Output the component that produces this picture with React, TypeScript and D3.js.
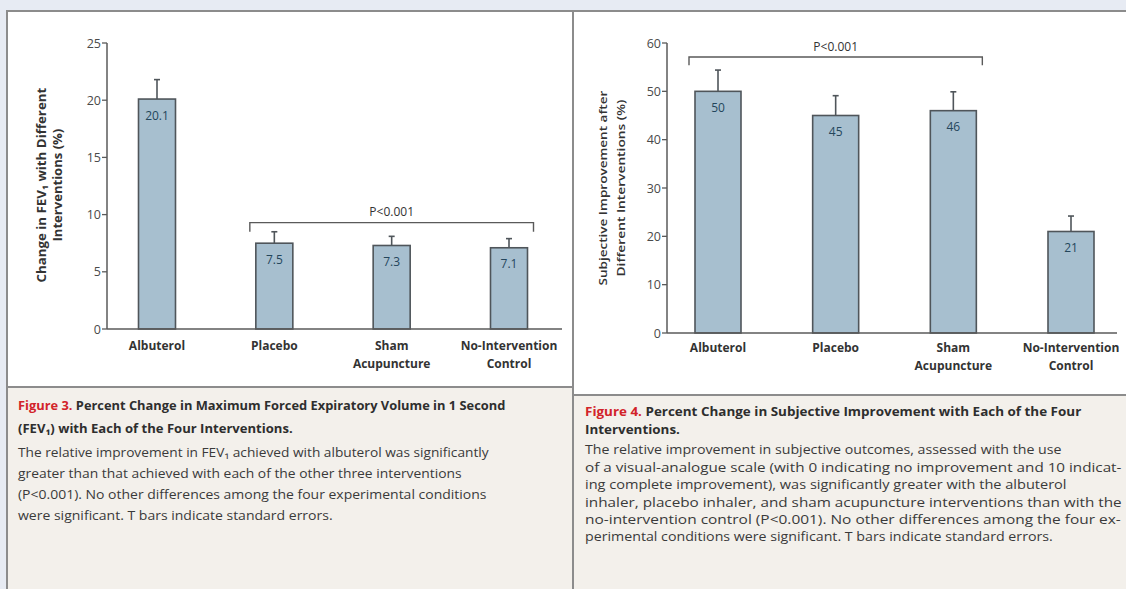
import React, { useEffect, useRef } from "react";
import * as d3 from "d3";

const categories = ["Albuterol", "Placebo", "Sham Acupuncture", "No-Intervention Control"];
const categoryLines = [["Albuterol"], ["Placebo"], ["Sham", "Acupuncture"], ["No-Intervention", "Control"]];

const fevValues = [20.1, 7.5, 7.3, 7.1];
const fevSE = [1.7, 1.0, 0.8, 0.8];
const fevTicks = [0, 5, 10, 15, 20, 25];

const subjValues = [50, 45, 46, 21];
const subjSE = [4.4, 4.1, 3.9, 3.2];
const subjTicks = [0, 10, 20, 30, 40, 50, 60];

const W = 1126;
const H = 589;
const FONT = "'Open Sans', 'Noto Sans', 'DejaVu Sans', sans-serif";
const BAR_FILL = "#a7bfcf";
const BAR_STROKE = "#4f555a";
const AXIS = "#5a5a5a";
const TEXT = "#333";
const RED = "#d2232a";
const PANEL_LINE = "#8c8c8c";
const CAPTION_BG = "#f3f0eb";
const PAGE_BG = "#e7ebf3";

type CapLine = { red?: string; text: string; bold: boolean; x1: number; y: number; len: number };

const leftCaption: CapLine[] = [
  { red: "Figure 3. ", text: "Percent Change in Maximum Forced Expiratory Volume in 1 Second", bold: true, x1: 18, y: 410, len: 488 },
  { text: "(FEV\u2081) with Each of the Four Interventions.", bold: true, x1: 18, y: 433, len: 275 },
  { text: "The relative improvement in FEV\u2081 achieved with albuterol was significantly", bold: false, x1: 18, y: 457, len: 471 },
  { text: "greater than that achieved with each of the other three interventions", bold: false, x1: 18, y: 478, len: 444 },
  { text: "(P<0.001). No other differences among the four experimental conditions", bold: false, x1: 18, y: 499, len: 469 },
  { text: "were significant. T bars indicate standard errors.", bold: false, x1: 18, y: 520, len: 315 },
];

const rightCaption: CapLine[] = [
  { red: "Figure 4. ", text: "Percent Change in Subjective Improvement with Each of the Four", bold: true, x1: 585, y: 416, len: 497 },
  { text: "Interventions.", bold: true, x1: 585, y: 434, len: 95 },
  { text: "The relative improvement in subjective outcomes, assessed with the use", bold: false, x1: 585, y: 454, len: 477 },
  { text: "of a visual-analogue scale (with 0 indicating no improvement and 10 indicat-", bold: false, x1: 585, y: 472, len: 537 },
  { text: "ing complete improvement), was significantly greater with the albuterol", bold: false, x1: 585, y: 489, len: 482 },
  { text: "inhaler, placebo inhaler, and sham acupuncture interventions than with the", bold: false, x1: 585, y: 507, len: 537 },
  { text: "no-intervention control (P<0.001). No other differences among the four ex-", bold: false, x1: 585, y: 524, len: 536 },
  { text: "perimental conditions were significant. T bars indicate standard errors.", bold: false, x1: 585, y: 541, len: 468 },
];

type ChartSpec = {
  values: number[];
  se: number[];
  ticks: number[];
  yDomain: [number, number];
  yRange: [number, number];
  xRange: [number, number];
  axisX0: number;
  axisX1: number;
  barW: number;
  fmt: (v: number) => string;
  bracket: { from: number; to: number; level: number; drop: number; label: string };
  titleLines: string[];
  titleX: number[];
  titleY: number;
  titleLen: number[];
  titleWeight: number;
  catY: number;
};

function Chart({ s }: { s: ChartSpec }) {
  const y = d3.scaleLinear().domain(s.yDomain).range(s.yRange);
  const x = d3.scalePoint<string>().domain(categories).range(s.xRange);
  const bw = s.barW;
  const bx0 = (x(categories[s.bracket.from]) as number) - bw / 2 - 6;
  const bx1 = (x(categories[s.bracket.to]) as number) + bw / 2 + 6;
  const by = y(s.bracket.level);
  const byd = y(s.bracket.level - s.bracket.drop);
  return (
    <g fontFamily={FONT}>
      {s.titleLines.map((t, i) => (
        <g key={i} transform={`translate(${s.titleX[i]},${s.titleY}) rotate(-90)`}>
          <text
            className="fit"
            data-len={s.titleLen[i]}
            data-anchor="middle"
            dominantBaseline="central"
            fontSize={11.5}
            fontWeight={s.titleWeight}
            fill={TEXT}
          >
            {t}
          </text>
        </g>
      ))}
      <line x1={s.axisX0} x2={s.axisX0} y1={y(s.yDomain[0])} y2={y(s.yDomain[1])} stroke={AXIS} strokeWidth={1.5} />
      {s.ticks.map((t) => (
        <g key={t}>
          <line x1={s.axisX0 - 5} x2={s.axisX0} y1={y(t)} y2={y(t)} stroke={AXIS} strokeWidth={1.3} />
          <text x={s.axisX0 - 6} y={y(t)} textAnchor="end" dominantBaseline="central" fontSize={12.5} fill="#4a4a4a">
            {t}
          </text>
        </g>
      ))}
      {categories.map((c, i) => {
        const cx = x(c) as number;
        const top = y(s.values[i]);
        const base = y(0);
        const eTop = y(s.values[i] + s.se[i]);
        return (
          <g key={c}>
            <line x1={cx} x2={cx} y1={top} y2={eTop} stroke={BAR_STROKE} strokeWidth={1.6} />
            <line x1={cx - 3} x2={cx + 3} y1={eTop} y2={eTop} stroke={BAR_STROKE} strokeWidth={1.6} />
            <rect x={cx - bw / 2} y={top} width={bw} height={base - top} fill={BAR_FILL} stroke={BAR_STROKE} strokeWidth={1.6} />
            <text x={cx} y={top + 16} textAnchor="middle" dominantBaseline="central" fontSize={12} fill="#24465c">
              {s.fmt(s.values[i])}
            </text>
            {categoryLines[i].map((ln, j) => (
              <text key={j} x={cx} y={s.catY + j * 18} textAnchor="middle" dominantBaseline="central" fontSize={12} fontWeight={700} fill={TEXT}>
                {ln}
              </text>
            ))}
          </g>
        );
      })}
      <line x1={s.axisX0} x2={s.axisX1} y1={y(0)} y2={y(0)} stroke={AXIS} strokeWidth={1.6} />
      <path d={`M${bx0},${byd}V${by}H${bx1}V${byd}`} fill="none" stroke={AXIS} strokeWidth={1.4} />
      <text x={(bx0 + bx1) / 2} y={by - 11} textAnchor="middle" dominantBaseline="central" fontSize={12} fill={TEXT}>
        {s.bracket.label}
      </text>
    </g>
  );
}

function Caption({ lines }: { lines: CapLine[] }) {
  return (
    <g fontFamily={FONT}>
      {lines.map((l, i) => (
        <g key={i} transform={`translate(${l.x1},${l.y})`}>
          <text
            className="fit"
            data-len={l.len}
            data-anchor="start"
            fontSize={12.5}
            fontWeight={l.bold ? 700 : 400}
            fill={l.bold ? "#2e2e2e" : "#3a3a3a"}
          >
            {l.red ? <tspan fill={RED}>{l.red}</tspan> : null}
            {l.text}
          </text>
        </g>
      ))}
    </g>
  );
}

export default function App() {
  const ref = useRef<SVGSVGElement | null>(null);
  useEffect(() => {
    if (!ref.current) return;
    d3.select(ref.current)
      .selectAll<SVGTextElement, unknown>("text.fit")
      .each(function () {
        const target = +(this.getAttribute("data-len") || 0);
        const anchor = this.getAttribute("data-anchor");
        const w = this.getComputedTextLength();
        if (!w || !target) return;
        const k = target / w;
        const dx = anchor === "middle" ? -target / 2 : 0;
        this.setAttribute("transform", `translate(${dx},0) scale(${k},1)`);
      });
  }, []);

  const left: ChartSpec = {
    values: fevValues,
    se: fevSE,
    ticks: fevTicks,
    yDomain: [0, 25],
    yRange: [329, 43],
    xRange: [157, 509],
    axisX0: 107,
    axisX1: 562,
    barW: 37,
    fmt: d3.format(".1f"),
    bracket: { from: 1, to: 3, level: 9.3, drop: 0.8, label: "P<0.001" },
    titleLines: ["Change in FEV\u2081 with Different", "Interventions (%)"],
    titleX: [42, 58],
    titleY: 185,
    titleLen: [195, 113],
    titleWeight: 700,
    catY: 345,
  };
  const right: ChartSpec = {
    values: subjValues,
    se: subjSE,
    ticks: subjTicks,
    yDomain: [0, 60],
    yRange: [333, 43],
    xRange: [718, 1071],
    axisX0: 667,
    axisX1: 1117,
    barW: 46,
    fmt: d3.format(".0f"),
    bracket: { from: 0, to: 2, level: 57.1, drop: 1.7, label: "P<0.001" },
    titleLines: ["Subjective Improvement after", "Different Interventions (%)"],
    titleX: [603, 620],
    titleY: 188,
    titleLen: [195, 177],
    titleWeight: 600,
    catY: 347,
  };
  return (
    <svg
      ref={ref}
      width={W}
      height={H}
      viewBox={`0 0 ${W} ${H}`}
      style={{ position: "fixed", left: 0, top: 0, display: "block" }}
    >
      <rect x={0} y={0} width={W} height={H} fill={PAGE_BG} />
      <rect x={7} y={11} width={566} height={376} fill="#fff" />
      <rect x={7} y={387} width={566} height={H - 387} fill={CAPTION_BG} />
      <rect x={573} y={11} width={W - 573} height={384} fill="#fff" />
      <rect x={573} y={395} width={W - 573} height={H - 395} fill={CAPTION_BG} />
      <line x1={6} x2={W} y1={11} y2={11} stroke={PANEL_LINE} strokeWidth={2} />
      <line x1={7} x2={7} y1={11} y2={H} stroke={PANEL_LINE} strokeWidth={2} />
      <line x1={573} x2={573} y1={11} y2={H} stroke={PANEL_LINE} strokeWidth={2} />
      <line x1={7} x2={573} y1={387} y2={387} stroke={PANEL_LINE} strokeWidth={2} />
      <line x1={573} x2={W} y1={395} y2={395} stroke={PANEL_LINE} strokeWidth={2} />
      <Chart s={left} />
      <Chart s={right} />
      <Caption lines={leftCaption} />
      <Caption lines={rightCaption} />
    </svg>
  );
}
